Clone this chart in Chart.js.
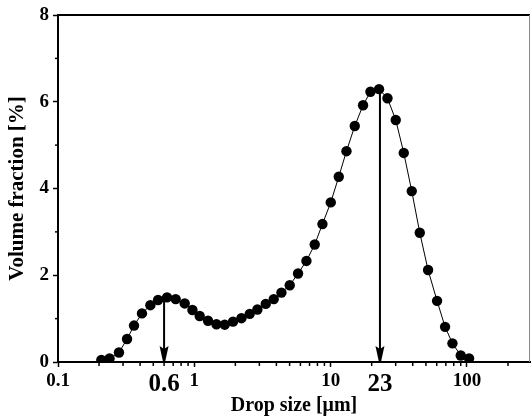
<!DOCTYPE html>
<html>
<head>
<meta charset="utf-8">
<script src="https://cdn.jsdelivr.net/npm/chart.js@4.4.0/dist/chart.umd.min.js"></script>
<style>
  html, body { margin: 0; padding: 0; background: #fff; }
</style>
</head>
<body>
<canvas id="sizeChart" width="531" height="419"></canvas>
<script>
// drop size distribution
const dropSizes = [0.208, 0.239, 0.280, 0.321, 0.361, 0.413, 0.476, 0.542, 0.631, 0.730,
    0.850, 0.969, 1.095, 1.260, 1.453, 1.671, 1.922, 2.216, 2.550, 2.903,
    3.341, 3.824, 4.355, 5.011, 5.766, 6.643, 7.644, 8.706, 10.02, 11.47,
    13.06, 15.03, 17.29, 19.59, 22.65, 26.11, 30.04, 34.39, 39.36, 45.06,
    51.84, 60.34, 69.08, 78.26, 90.05, 103.6];
const volumeFraction = [0.05, 0.08, 0.22, 0.53, 0.84, 1.12, 1.31, 1.43, 1.49, 1.45,
    1.35, 1.20, 1.06, 0.95, 0.87, 0.86, 0.93, 1.01, 1.11, 1.21,
    1.34, 1.45, 1.60, 1.77, 2.04, 2.33, 2.71, 3.18, 3.68, 4.27,
    4.86, 5.44, 5.92, 6.23, 6.29, 6.08, 5.58, 4.82, 3.94, 2.98,
    2.12, 1.41, 0.81, 0.43, 0.15, 0.08];

// peak markers (arrows)
const markedSizes = [0.6, 23];
const markedPeaks = [1.49, 6.29];

const xTickLabels = [0.1, 1, 10, 100];
const xMinorTicks = [0.2, 0.3, 0.4, 0.5, 0.6, 0.7, 0.8, 0.9, 2, 3, 4, 5, 6, 7, 8, 9,
    20, 30, 40, 50, 60, 70, 80, 90, 200];
const yTickLabels = [0, 2, 4, 6, 8];
const yMinorTicks = [1, 3, 5, 7];

const serif = "'Liberation Serif', 'Times New Roman', serif";

const extras = {
    id: 'extras',
    afterDatasetsDraw(chart) {
        const { ctx, scales: { x, y } } = chart;
        ctx.save();
        ctx.strokeStyle = '#000';
        ctx.fillStyle = '#000';
        ctx.lineWidth = 2;
        markedSizes.forEach((s, i) => {
            const px = x.getPixelForValue(s);
            const top = y.getPixelForValue(markedPeaks[i]);
            const bottom = y.getPixelForValue(0);
            ctx.beginPath();
            ctx.moveTo(px, top);
            ctx.lineTo(px, bottom - 12);
            ctx.stroke();
            // arrow head
            ctx.beginPath();
            ctx.moveTo(px - 4.5, bottom - 16);
            ctx.lineTo(px, bottom - 13);
            ctx.lineTo(px + 4.5, bottom - 16);
            ctx.lineTo(px + 1, bottom);
            ctx.lineTo(px - 1, bottom);
            ctx.closePath();
            ctx.fill();
        });
        ctx.restore();
    },
    afterDraw(chart) {
        const { ctx, chartArea: a, scales: { x, y } } = chart;
        ctx.save();
        // frame
        ctx.strokeStyle = '#000';
        ctx.lineWidth = 2;
        ctx.beginPath();
        ctx.moveTo(a.left, a.top);
        ctx.lineTo(a.right, a.top);
        ctx.stroke();
        ctx.strokeStyle = '#888';
        ctx.lineWidth = 1;
        ctx.beginPath();
        ctx.moveTo(a.right - 0.5, a.top);
        ctx.lineTo(a.right - 0.5, a.bottom);
        ctx.stroke();
        // minor ticks
        ctx.strokeStyle = '#000';
        ctx.lineWidth = 1.5;
        xMinorTicks.forEach(v => {
            const px = x.getPixelForValue(v);
            ctx.beginPath();
            ctx.moveTo(px, a.bottom);
            ctx.lineTo(px, a.bottom + 4);
            ctx.stroke();
        });
        yMinorTicks.forEach(v => {
            const py = y.getPixelForValue(v);
            ctx.beginPath();
            ctx.moveTo(a.left, py);
            ctx.lineTo(a.left - 3, py);
            ctx.stroke();
        });
        ctx.restore();
    }
};

new Chart(document.getElementById('sizeChart'), {
    type: 'line',
    data: {
        datasets: [{
            data: dropSizes.map((s, i) => ({ x: s, y: volumeFraction[i] })),
            borderColor: '#000',
            borderWidth: 1,
            backgroundColor: '#000',
            pointBackgroundColor: '#000',
            pointBorderColor: '#000',
            pointRadius: 5.2,
            pointBorderWidth: 0,
            tension: 0
        }]
    },
    options: {
        responsive: false,
        animation: false,
        layout: { autoPadding: false, padding: { top: 15, right: 1, left: 0, bottom: 0 } },
        plugins: { legend: { display: false }, tooltip: { enabled: false } },
        scales: {
            x: {
                type: 'logarithmic',
                min: 0.1,
                max: 290,
                afterBuildTicks: s => {
                    s.ticks = [...xTickLabels, ...markedSizes].sort((p, q) => p - q).map(v => ({ value: v }));
                },
                afterFit: s => { s.height = 57; s.paddingLeft = 0; s.paddingRight = 0; },
                ticks: {
                    autoSkip: false,
                    maxRotation: 0,
                    padding: 3,
                    color: '#000',
                    font: c => ({ family: serif, weight: 'bold', size: markedSizes.includes(c.tick && c.tick.value) ? 25 : 19 }),
                    callback: v => String(v)
                },
                grid: {
                    drawOnChartArea: false,
                    tickLength: 5,
                    tickWidth: 1.5,
                    tickColor: c => markedSizes.includes(c.tick && c.tick.value) ? 'rgba(0,0,0,0)' : '#000'
                },
                border: { color: '#000', width: 2 },
                title: {
                    display: true,
                    text: 'Drop size [μm]',
                    color: '#000',
                    font: { family: serif, weight: 'bold', size: 20 },
                    padding: { top: 0, bottom: 1 }
                }
            },
            y: {
                min: 0,
                max: 8,
                afterBuildTicks: s => { s.ticks = yTickLabels.map(v => ({ value: v })); },
                afterFit: s => { s.width = 58; s.paddingTop = 0; s.paddingBottom = 0; },
                ticks: {
                    padding: 4,
                    color: '#000',
                    font: { family: serif, weight: 'bold', size: 19 }
                },
                grid: { drawOnChartArea: false, tickLength: 5, tickWidth: 1.5, tickColor: '#000' },
                border: { color: '#000', width: 2 },
                title: {
                    display: true,
                    text: 'Volume fraction [%]',
                    color: '#000',
                    font: { family: serif, weight: 'bold', size: 21 },
                    padding: { top: 5, bottom: 0 }
                }
            }
        }
    },
    plugins: [extras]
});
</script>
</body>
</html>
